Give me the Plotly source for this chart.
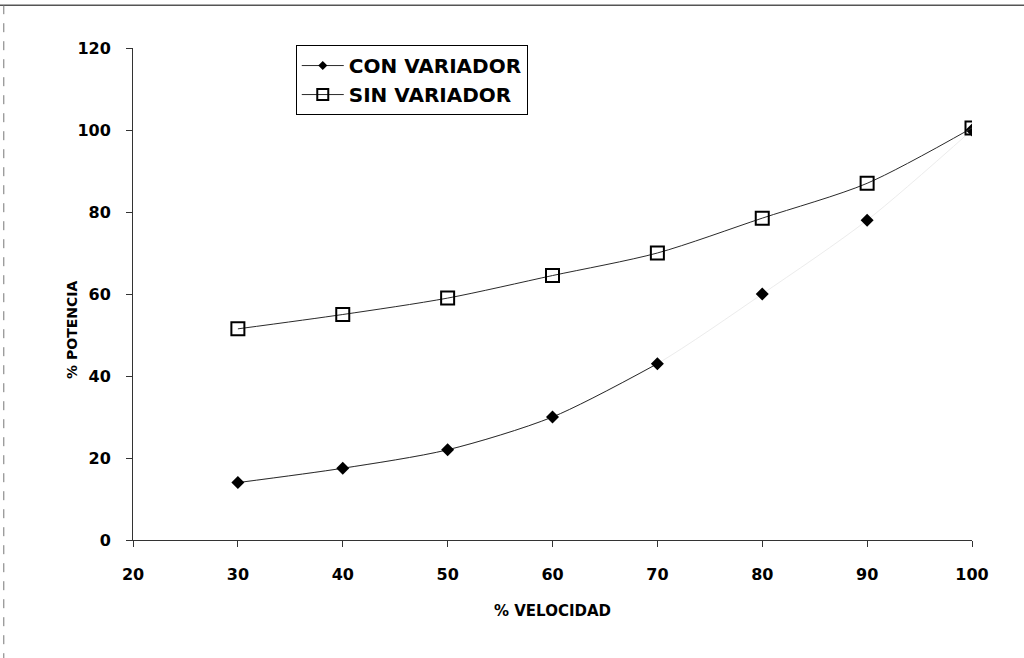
import plotly.graph_objects as go

# % speed vs % power, with and without a variable-speed drive
velocidad = [30, 40, 50, 60, 70, 80, 90, 100]
con_variador = [14, 17.5, 22, 30, 43, 60, 78, 100]
sin_variador = [51.5, 55, 59, 64.5, 70, 78.5, 87, 100.5]
x_ticks = [20, 30, 40, 50, 60, 70, 80, 90, 100]
y_ticks = [0, 20, 40, 60, 80, 100, 120]

FONT = "DejaVu Sans, Arial, sans-serif"
LINE = "#2a2a2a"

fig = go.Figure()

# faint continuation of the "con variador" curve (printed lightly)
fig.add_trace(go.Scatter(
    x=velocidad, y=con_variador, mode="lines",
    line=dict(color="#ececec", width=1, shape="spline", smoothing=0.8),
    showlegend=False, hoverinfo="skip",
))
# solid part of the "con variador" curve
fig.add_trace(go.Scatter(
    x=velocidad[:5], y=con_variador[:5], mode="lines",
    line=dict(color=LINE, width=1, shape="spline", smoothing=0.8),
    showlegend=False, hoverinfo="skip",
))
fig.add_trace(go.Scatter(
    x=velocidad, y=con_variador, mode="markers",
    name="CON VARIADOR",
    marker=dict(symbol="diamond", size=10, color="black"),
    showlegend=False,
))
fig.add_trace(go.Scatter(
    x=velocidad, y=sin_variador, mode="lines+markers",
    name="SIN VARIADOR",
    line=dict(color=LINE, width=1, shape="spline", smoothing=0.8),
    marker=dict(symbol="square-open", size=13, color="black",
                line=dict(width=2, color="black")),
    showlegend=False,
))

# legend entries (line + marker samples)
fig.add_trace(go.Scatter(
    x=[None], y=[None], mode="lines+markers", name="CON VARIADOR",
    line=dict(color=LINE, width=1),
    marker=dict(symbol="diamond", size=7, color="black"),
))
fig.add_trace(go.Scatter(
    x=[None], y=[None], mode="lines+markers", name="SIN VARIADOR",
    line=dict(color=LINE, width=1),
    marker=dict(symbol="square-open", size=11, color="black",
                line=dict(width=2, color="black")),
))

BOLD = dict(family=FONT, color="black", weight="bold")

fig.update_layout(
    width=1024, height=658,
    margin=dict(l=133, r=52, t=48, b=118),
    paper_bgcolor="white", plot_bgcolor="white",
    font=dict(family=FONT, color="black", size=16),
    legend=dict(
        x=0.194, y=1.006, xanchor="left", yanchor="top",
        bordercolor="black", borderwidth=1, bgcolor="white",
        font=dict(BOLD, size=20),
        tracegroupgap=0, itemwidth=42,
    ),
    xaxis=dict(
        range=[20, 100], tickvals=x_ticks, ticks="outside", ticklen=6,
        tickcolor="#333333", showline=True, linecolor="#333333", linewidth=1,
        showgrid=False, zeroline=False, ticklabelstandoff=14,
        tickfont=dict(BOLD, size=16),
        title=dict(text="% VELOCIDAD", standoff=22,
                   font=dict(BOLD, size=15)),
    ),
    yaxis=dict(
        range=[0, 120], tickvals=y_ticks, ticks="outside", ticklen=6,
        tickcolor="#333333", showline=True, linecolor="#333333", linewidth=1,
        showgrid=False, zeroline=False, ticklabelstandoff=12,
        tickfont=dict(BOLD, size=16),
    ),
    annotations=[
        dict(text="% POTENCIA", xref="paper", yref="paper",
             x=-0.0727, y=0.427, textangle=-90, showarrow=False,
             xanchor="center", yanchor="middle",
             font=dict(BOLD, size=14)),
    ],
    shapes=[
        dict(type="line", xref="paper", yref="paper",
             x0=-0.159, x1=1.062, y0=1.087, y1=1.087,
             line=dict(color="#555555", width=1.5)),
        dict(type="line", xref="paper", yref="paper",
             x0=-0.154, x1=-0.154, y0=1.087, y1=-0.24,
             line=dict(color="#777777", width=1, dash="dash")),
    ],
)

fig.write_html("out.html")
